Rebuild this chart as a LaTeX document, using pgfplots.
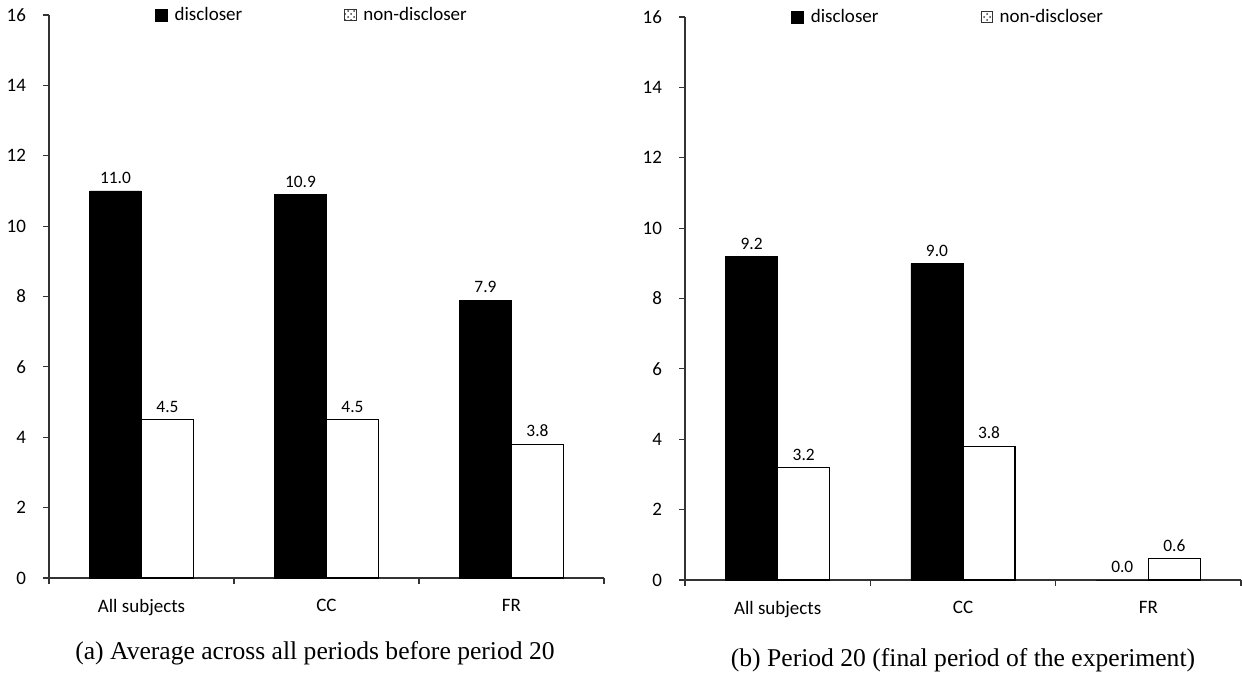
\documentclass[border=0pt]{standalone}
\usepackage{pgfplots}
\pgfplotsset{compat=1.18}
\usepackage{fontspec}
\setmainfont{Carlito}
\newfontfamily\capfont{Liberation Serif}
\usetikzlibrary{patterns}

\pgfplotsset{
  panel/.style={
    scale only axis,
    width=#1,
    height=281.5pt,
    xmin=-0.5, xmax=2.5,
    ymin=0, ymax=16,
    axis lines=left,
    axis line style={-, draw=black!80, line width=0.6pt},
    tick style={draw=black!80, line width=0.6pt},
    tick align=outside,
    xtick={0,1,2},
    xticklabels={All subjects,CC,FR},
    major x tick style={draw=none},
    minor xtick={-0.5,0.5,1.5,2.5},
    minor tick length=3pt,
    major tick length=3pt,
    ytick={0,2,...,16},
    ticklabel style={font=\fontsize{9.5}{11}\selectfont},
    /pgf/number format/assume math mode=true,
    yticklabel style={xshift=-5pt},
    xticklabel style={yshift=-4pt},
    ybar,
    bar width=0.281,
    nodes near coords,
    every node near coord/.append style={font=\fontsize{8.7}{10}\selectfont, black},
    nodes near coords style={/pgf/number format/.cd, fixed, fixed zerofill, precision=1, assume math mode=true},
    legend columns=2,
    legend style={draw=none, fill=none, font=\fontsize{9.5}{11}\selectfont,
      /tikz/every odd column/.append style={column sep=1.5pt},
      /tikz/every even column/.append style={column sep=49pt},
      inner sep=0pt},
  },
  discl/.style={fill=black, draw=black, bar shift=-0.1405,
    legend image code/.code={\fill[black] (0pt,-3pt) rectangle (6pt,3pt);}},
  nondiscl/.style={fill=white, draw=black, line width=0.6pt, bar shift=0.1405,
    legend image code/.code={\draw[black!80, line width=0.4pt, fill=gray!30, pattern=crosshatch dots, pattern color=black!75] (0pt,-2.8pt) rectangle (5.6pt,2.8pt);}},
}

\begin{document}
\begin{tikzpicture}
% Panel (a): average across all periods before period 20
\begin{axis}[panel=277.5pt, at={(24.5pt,49.5pt)}, anchor=south west,
  legend style={at={(0.19,1.0)}, anchor=west}]
\addplot[discl] coordinates {(0,11.0) (1,10.9) (2,7.9)};
\addplot[nondiscl] coordinates {(0,4.5) (1,4.5) (2,3.8)};
\legend{discloser,non-discloser}
\end{axis}

% Panel (b): period 20
\begin{axis}[panel=278pt, at={(342.5pt,48.5pt)}, anchor=south west,
  legend style={at={(0.19,1.0)}, anchor=west}]
\addplot[discl] coordinates {(0,9.2) (1,9.0) (2,0.0)};
\addplot[nondiscl] coordinates {(0,3.2) (1,3.8) (2,0.6)};
\legend{discloser,non-discloser}
\end{axis}

\node[font=\capfont\fontsize{12.8}{15}\selectfont] at (157.5pt,12pt) {(a) Average across all periods before period 20};
\node[font=\capfont\fontsize{12.8}{15}\selectfont] at (481.5pt,8.5pt) {(b) Period 20 (final period of the experiment)};

\pgfresetboundingbox
\path (0,0) rectangle (621pt,338.5pt);
\end{tikzpicture}
\end{document}
